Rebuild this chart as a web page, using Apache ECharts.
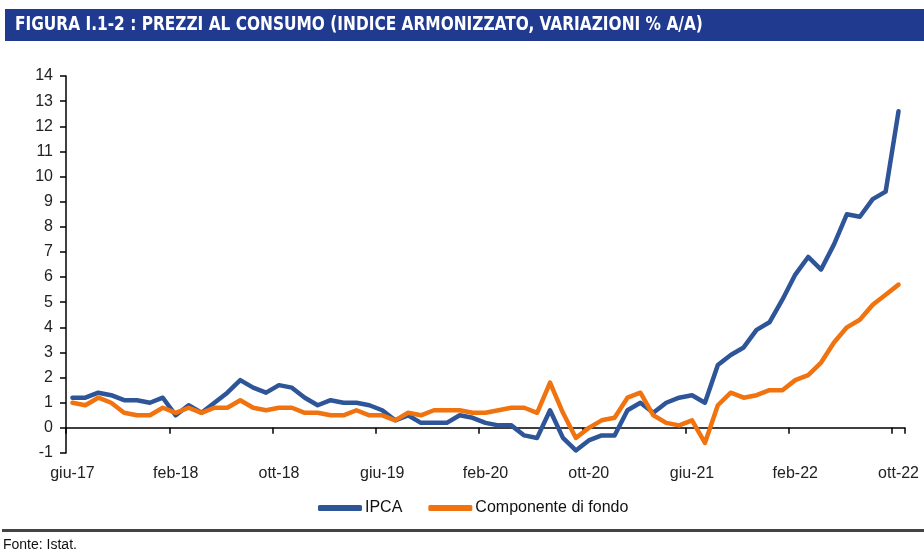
<!DOCTYPE html>
<html>
<head>
<meta charset="utf-8">
<script src="https://cdn.jsdelivr.net/npm/echarts@6/dist/echarts.min.js"></script>
<style>
  html, body { margin: 0; padding: 0; background: #fff; }
  #chart { width: 924px; height: 553px; }
</style>
</head>
<body>
<div id="chart"></div>
<script>
// mesi da giu-17 a ott-22
var mesi = [
  'giu-17','lug-17','ago-17','set-17','ott-17','nov-17','dic-17',
  'gen-18','feb-18','mar-18','apr-18','mag-18','giu-18','lug-18','ago-18','set-18','ott-18','nov-18','dic-18',
  'gen-19','feb-19','mar-19','apr-19','mag-19','giu-19','lug-19','ago-19','set-19','ott-19','nov-19','dic-19',
  'gen-20','feb-20','mar-20','apr-20','mag-20','giu-20','lug-20','ago-20','set-20','ott-20','nov-20','dic-20',
  'gen-21','feb-21','mar-21','apr-21','mag-21','giu-21','lug-21','ago-21','set-21','ott-21','nov-21','dic-21',
  'gen-22','feb-22','mar-22','apr-22','mag-22','giu-22','lug-22','ago-22','set-22','ott-22'
];

var ipca = [
  1.2, 1.2, 1.4, 1.3, 1.1, 1.1, 1.0,
  1.2, 0.5, 0.9, 0.6, 1.0, 1.4, 1.9, 1.6, 1.4, 1.7, 1.6, 1.2,
  0.9, 1.1, 1.0, 1.0, 0.9, 0.7, 0.3, 0.5, 0.2, 0.2, 0.2, 0.5,
  0.4, 0.2, 0.1, 0.1, -0.3, -0.4, 0.7, -0.4, -0.9, -0.5, -0.3, -0.3,
  0.7, 1.0, 0.6, 1.0, 1.2, 1.3, 1.0, 2.5, 2.9, 3.2, 3.9, 4.2,
  5.1, 6.1, 6.8, 6.3, 7.3, 8.5, 8.4, 9.1, 9.4, 12.6
];

var fondo = [
  1.0, 0.9, 1.2, 1.0, 0.6, 0.5, 0.5,
  0.8, 0.6, 0.8, 0.6, 0.8, 0.8, 1.1, 0.8, 0.7, 0.8, 0.8, 0.6,
  0.6, 0.5, 0.5, 0.7, 0.5, 0.5, 0.3, 0.6, 0.5, 0.7, 0.7, 0.7,
  0.6, 0.6, 0.7, 0.8, 0.8, 0.6, 1.8, 0.6, -0.4, 0.0, 0.3, 0.4,
  1.2, 1.4, 0.5, 0.2, 0.1, 0.3, -0.6, 0.9, 1.4, 1.2, 1.3, 1.5,
  1.5, 1.9, 2.1, 2.6, 3.4, 4.0, 4.3, 4.9, 5.3, 5.7
];

var chart = echarts.init(document.getElementById('chart'));

var assiFont = 'Liberation Sans';
var nero = { color: '#000', width: 1.5 };

var option = {
  animation: false,
  color: ['#2e5597', '#f0730f'],
  textStyle: { fontFamily: assiFont },
  grid: { left: 66, right: 19, top: 76, bottom: 100 },
  legend: {
    left: 318,
    top: 500,
    padding: 0,
    icon: 'roundRect',
    itemWidth: 44,
    itemHeight: 6,
    itemGap: 26,
    textStyle: { fontSize: 16, color: '#111', fontFamily: assiFont, padding: [0, 0, 0, -2] },
    data: ['IPCA', 'Componente di fondo']
  },
  graphic: [
    { type: 'rect', shape: { x: 5, y: 9, width: 919, height: 32 }, style: { fill: '#1f3a8f' } },
    { type: 'text', x: 15, y: 25, scaleX: 0.9,
      style: { text: 'FIGURA I.1-2 : PREZZI AL CONSUMO (INDICE ARMONIZZATO, VARIAZIONI % A/A)',
               fill: '#fff', font: 'bold 19px "Liberation Sans Narrow", "DejaVu Sans Condensed", sans-serif',
               textVerticalAlign: 'middle' } },
    { type: 'rect', shape: { x: 2, y: 529, width: 922, height: 3 }, style: { fill: '#444' } },
    { type: 'text', x: 3, y: 545,
      style: { text: 'Fonte: Istat.', fill: '#111', font: '14px "Liberation Sans", sans-serif',
               textVerticalAlign: 'middle' } }
  ],
  xAxis: [
    {
      type: 'category',
      data: mesi,
      boundaryGap: true,
      axisLine: { onZero: true, lineStyle: nero },
      axisTick: { show: true, interval: 7, length: 6, lineStyle: nero },
      axisLabel: { show: false },
      splitLine: { show: false }
    },
    {
      type: 'category',
      data: mesi,
      position: 'bottom',
      boundaryGap: true,
      axisLine: { show: false, onZero: false },
      axisTick: { show: false },
      axisLabel: { interval: 7, margin: 13, fontSize: 16, color: '#222', fontFamily: assiFont },
      splitLine: { show: false }
    }
  ],
  yAxis: {
    type: 'value',
    min: -1,
    max: 14,
    interval: 1,
    axisLine: { show: true, lineStyle: nero },
    axisTick: { show: true, length: 6, lineStyle: nero },
    axisLabel: { margin: 13, fontSize: 16, color: '#222', fontFamily: assiFont },
    splitLine: { show: false }
  },
  series: [
    {
      name: 'IPCA',
      type: 'line',
      xAxisIndex: 0,
      data: ipca,
      symbol: 'none',
      lineStyle: { width: 4.5, cap: 'round', join: 'round' }
    },
    {
      name: 'Componente di fondo',
      type: 'line',
      xAxisIndex: 0,
      data: fondo,
      symbol: 'none',
      lineStyle: { width: 4.5, cap: 'round', join: 'round' }
    }
  ]
};

chart.setOption(option);
</script>
</body>
</html>
